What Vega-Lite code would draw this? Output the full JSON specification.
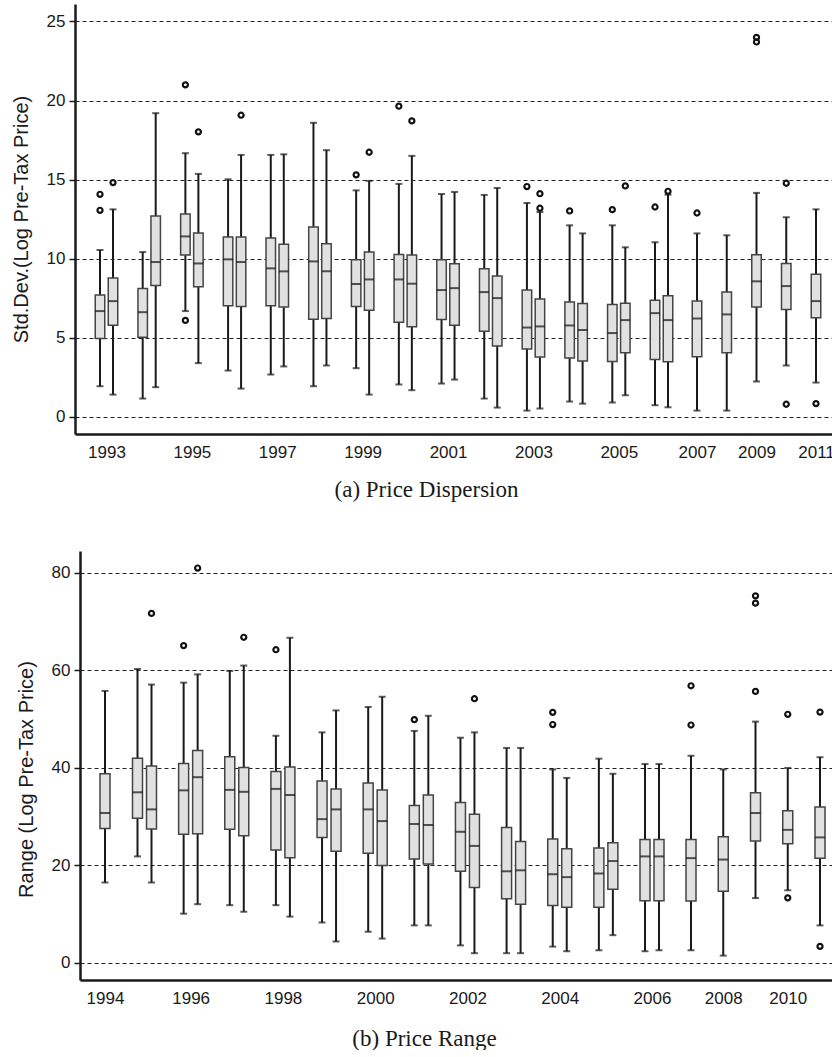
{
  "$schema": "https://vega.github.io/schema/vega-lite/v6.json",
  "background": "white",
  "padding": {"left": 11, "top": 4, "right": 0, "bottom": 0},
  "spacing": 50,
  "config": {
    "view": {"stroke": null},
    "font": "Liberation Sans",
    "axis": {
      "labelFont": "Liberation Sans",
      "titleFont": "Liberation Sans",
      "labelColor": "#1a1a1a",
      "titleColor": "#1a1a1a",
      "domainColor": "#1a1a1a",
      "tickColor": "#1a1a1a",
      "domainWidth": 2.5,
      "titleFontWeight": "normal"
    }
  },
  "datasets": {
    "a": [
      {"year": 1993, "half": "H1", "lo": 1.94, "q1": 4.96, "med": 6.69, "q3": 7.70, "hi": 10.55},
      {"year": 1993, "half": "H2", "lo": 1.41, "q1": 5.80, "med": 7.32, "q3": 8.78, "hi": 13.12},
      {"year": 1994, "half": "H1", "lo": 1.16, "q1": 5.04, "med": 6.62, "q3": 8.12, "hi": 10.42},
      {"year": 1994, "half": "H2", "lo": 1.88, "q1": 8.31, "med": 9.79, "q3": 12.70, "hi": 19.2},
      {"year": 1995, "half": "H1", "lo": 6.69, "q1": 10.23, "med": 11.41, "q3": 12.83, "hi": 16.67},
      {"year": 1995, "half": "H2", "lo": 3.40, "q1": 8.23, "med": 9.70, "q3": 11.62, "hi": 15.36},
      {"year": 1996, "half": "H1", "lo": 2.93, "q1": 7.03, "med": 9.96, "q3": 11.37, "hi": 15.02},
      {"year": 1996, "half": "H2", "lo": 1.79, "q1": 6.98, "med": 9.79, "q3": 11.37, "hi": 16.56},
      {"year": 1997, "half": "H1", "lo": 2.68, "q1": 7.03, "med": 9.39, "q3": 11.31, "hi": 16.56},
      {"year": 1997, "half": "H2", "lo": 3.19, "q1": 6.94, "med": 9.20, "q3": 10.91, "hi": 16.6},
      {"year": 1998, "half": "H1", "lo": 1.94, "q1": 6.18, "med": 9.83, "q3": 12.0, "hi": 18.59},
      {"year": 1998, "half": "H2", "lo": 3.25, "q1": 6.22, "med": 9.20, "q3": 10.95, "hi": 16.86},
      {"year": 1999, "half": "H1", "lo": 3.08, "q1": 6.98, "med": 8.40, "q3": 9.94, "hi": 14.32},
      {"year": 1999, "half": "H2", "lo": 1.41, "q1": 6.75, "med": 8.69, "q3": 10.42, "hi": 14.92},
      {"year": 2000, "half": "H1", "lo": 2.05, "q1": 5.99, "med": 8.69, "q3": 10.27, "hi": 14.73},
      {"year": 2000, "half": "H2", "lo": 1.69, "q1": 5.70, "med": 8.42, "q3": 10.23, "hi": 16.50},
      {"year": 2001, "half": "H1", "lo": 2.11, "q1": 6.16, "med": 8.02, "q3": 9.94, "hi": 14.09},
      {"year": 2001, "half": "H2", "lo": 2.36, "q1": 5.80, "med": 8.14, "q3": 9.68, "hi": 14.22},
      {"year": 2002, "half": "H1", "lo": 1.16, "q1": 5.42, "med": 7.89, "q3": 9.37, "hi": 14.03},
      {"year": 2002, "half": "H2", "lo": 0.59, "q1": 4.49, "med": 7.51, "q3": 8.90, "hi": 14.47},
      {"year": 2003, "half": "H1", "lo": 0.40, "q1": 4.30, "med": 5.65, "q3": 8.02, "hi": 13.52},
      {"year": 2003, "half": "H2", "lo": 0.53, "q1": 3.78, "med": 5.72, "q3": 7.45, "hi": 12.95},
      {"year": 2004, "half": "H1", "lo": 0.97, "q1": 3.73, "med": 5.78, "q3": 7.26, "hi": 12.11},
      {"year": 2004, "half": "H2", "lo": 0.84, "q1": 3.54, "med": 5.49, "q3": 7.17, "hi": 11.60},
      {"year": 2005, "half": "H1", "lo": 0.91, "q1": 3.50, "med": 5.30, "q3": 7.11, "hi": 12.11},
      {"year": 2005, "half": "H2", "lo": 1.37, "q1": 4.05, "med": 6.12, "q3": 7.19, "hi": 10.72},
      {"year": 2006, "half": "H1", "lo": 0.74, "q1": 3.63, "med": 6.56, "q3": 7.38, "hi": 11.04},
      {"year": 2006, "half": "H2", "lo": 0.61, "q1": 3.48, "med": 6.12, "q3": 7.66, "hi": 14.05},
      {"year": 2007, "half": "Y", "lo": 0.40, "q1": 3.80, "med": 6.22, "q3": 7.32, "hi": 11.60},
      {"year": 2008, "half": "Y", "lo": 0.40, "q1": 4.05, "med": 6.48, "q3": 7.89, "hi": 11.48},
      {"year": 2009, "half": "Y", "lo": 2.24, "q1": 6.94, "med": 8.57, "q3": 10.25, "hi": 14.16},
      {"year": 2010, "half": "Y", "lo": 3.25, "q1": 6.79, "med": 8.27, "q3": 9.70, "hi": 12.62},
      {"year": 2011, "half": "Y", "lo": 2.17, "q1": 6.27, "med": 7.32, "q3": 9.01, "hi": 13.12}
    ],
    "aOut": [
      {"year": 1993, "half": "H1", "value": 14.07},
      {"year": 1993, "half": "H1", "value": 13.06},
      {"year": 1993, "half": "H2", "value": 14.81},
      {"year": 1995, "half": "H1", "value": 20.99},
      {"year": 1995, "half": "H1", "value": 6.10},
      {"year": 1995, "half": "H2", "value": 18.02},
      {"year": 1996, "half": "H2", "value": 19.07},
      {"year": 1999, "half": "H1", "value": 15.30},
      {"year": 1999, "half": "H2", "value": 16.73},
      {"year": 2000, "half": "H1", "value": 19.64},
      {"year": 2000, "half": "H2", "value": 18.71},
      {"year": 2003, "half": "H1", "value": 14.56},
      {"year": 2003, "half": "H2", "value": 14.11},
      {"year": 2003, "half": "H2", "value": 13.19},
      {"year": 2004, "half": "H1", "value": 13.02},
      {"year": 2005, "half": "H1", "value": 13.10},
      {"year": 2005, "half": "H2", "value": 14.60},
      {"year": 2006, "half": "H1", "value": 13.27},
      {"year": 2006, "half": "H2", "value": 14.26},
      {"year": 2007, "half": "Y", "value": 12.89},
      {"year": 2009, "half": "Y", "value": 23.99},
      {"year": 2009, "half": "Y", "value": 23.70},
      {"year": 2010, "half": "Y", "value": 14.77},
      {"year": 2010, "half": "Y", "value": 0.80},
      {"year": 2011, "half": "Y", "value": 0.84}
    ],
    "b": [
      {"year": 1994, "half": "Y", "lo": 16.5, "q1": 27.6, "med": 30.75, "q3": 38.8, "hi": 55.8},
      {"year": 1995, "half": "H1", "lo": 21.85, "q1": 29.7, "med": 35.0, "q3": 42.0, "hi": 60.3},
      {"year": 1995, "half": "H2", "lo": 16.5, "q1": 27.5, "med": 31.5, "q3": 40.4, "hi": 57.1},
      {"year": 1996, "half": "H1", "lo": 10.1, "q1": 26.4, "med": 35.4, "q3": 40.9, "hi": 57.5},
      {"year": 1996, "half": "H2", "lo": 12.05, "q1": 26.5, "med": 38.1, "q3": 43.6, "hi": 59.2},
      {"year": 1997, "half": "H1", "lo": 11.85, "q1": 27.4, "med": 35.5, "q3": 42.3, "hi": 59.9},
      {"year": 1997, "half": "H2", "lo": 10.5, "q1": 26.1, "med": 35.1, "q3": 40.1, "hi": 61.0},
      {"year": 1998, "half": "H1", "lo": 11.85, "q1": 23.15, "med": 35.7, "q3": 39.25, "hi": 46.6},
      {"year": 1998, "half": "H2", "lo": 9.5, "q1": 21.6, "med": 34.45, "q3": 40.2, "hi": 66.7},
      {"year": 1999, "half": "H1", "lo": 8.3, "q1": 25.75, "med": 29.5, "q3": 37.3, "hi": 47.3},
      {"year": 1999, "half": "H2", "lo": 4.4, "q1": 22.9, "med": 31.5, "q3": 35.7, "hi": 51.8},
      {"year": 2000, "half": "H1", "lo": 6.4, "q1": 22.5, "med": 31.5, "q3": 36.9, "hi": 52.5},
      {"year": 2000, "half": "H2", "lo": 5.0, "q1": 20.0, "med": 29.1, "q3": 35.5, "hi": 54.6},
      {"year": 2001, "half": "H1", "lo": 7.7, "q1": 21.3, "med": 28.5, "q3": 32.3, "hi": 47.6},
      {"year": 2001, "half": "H2", "lo": 7.7, "q1": 20.3, "med": 28.3, "q3": 34.45, "hi": 50.7},
      {"year": 2002, "half": "H1", "lo": 3.6, "q1": 18.8, "med": 26.9, "q3": 32.9, "hi": 46.2},
      {"year": 2002, "half": "H2", "lo": 2.0, "q1": 15.5, "med": 24.0, "q3": 30.5, "hi": 47.3},
      {"year": 2003, "half": "H1", "lo": 2.0, "q1": 13.15, "med": 18.8, "q3": 27.8, "hi": 44.1},
      {"year": 2003, "half": "H2", "lo": 2.0, "q1": 12.05, "med": 19.0, "q3": 24.9, "hi": 44.1},
      {"year": 2004, "half": "H1", "lo": 3.35, "q1": 11.8, "med": 18.2, "q3": 25.4, "hi": 39.7},
      {"year": 2004, "half": "H2", "lo": 2.4, "q1": 11.4, "med": 17.6, "q3": 23.4, "hi": 37.95},
      {"year": 2005, "half": "H1", "lo": 2.6, "q1": 11.4, "med": 18.35, "q3": 23.6, "hi": 41.9},
      {"year": 2005, "half": "H2", "lo": 5.7, "q1": 15.1, "med": 20.9, "q3": 24.65, "hi": 38.8},
      {"year": 2006, "half": "H1", "lo": 2.4, "q1": 12.75, "med": 21.85, "q3": 25.3, "hi": 40.8},
      {"year": 2006, "half": "H2", "lo": 2.6, "q1": 12.75, "med": 21.85, "q3": 25.3, "hi": 40.8},
      {"year": 2007, "half": "Y", "lo": 2.6, "q1": 12.7, "med": 21.5, "q3": 25.3, "hi": 42.5},
      {"year": 2008, "half": "Y", "lo": 1.5, "q1": 14.7, "med": 21.2, "q3": 25.9, "hi": 39.7},
      {"year": 2009, "half": "Y", "lo": 13.3, "q1": 25.0, "med": 30.75, "q3": 34.9, "hi": 49.5},
      {"year": 2010, "half": "Y", "lo": 14.9, "q1": 24.45, "med": 27.3, "q3": 31.2, "hi": 40.0},
      {"year": 2011, "half": "Y", "lo": 7.7, "q1": 21.5, "med": 25.75, "q3": 32.0, "hi": 42.2}
    ],
    "bOut": [
      {"year": 1995, "half": "H2", "value": 71.7},
      {"year": 1996, "half": "H1", "value": 65.1},
      {"year": 1996, "half": "H2", "value": 81.0},
      {"year": 1997, "half": "H2", "value": 66.8},
      {"year": 1998, "half": "H1", "value": 64.25},
      {"year": 2001, "half": "H1", "value": 49.9},
      {"year": 2002, "half": "H2", "value": 54.2},
      {"year": 2004, "half": "H1", "value": 51.4},
      {"year": 2004, "half": "H1", "value": 48.9},
      {"year": 2007, "half": "Y", "value": 56.85},
      {"year": 2007, "half": "Y", "value": 48.8},
      {"year": 2009, "half": "Y", "value": 75.3},
      {"year": 2009, "half": "Y", "value": 73.8},
      {"year": 2009, "half": "Y", "value": 55.7},
      {"year": 2010, "half": "Y", "value": 51.0},
      {"year": 2010, "half": "Y", "value": 13.35},
      {"year": 2011, "half": "Y", "value": 51.45},
      {"year": 2011, "half": "Y", "value": 3.4}
    ]
  },
  "vconcat": [
    {
      "width": 757,
      "height": 430,
      "layer": [
        {
          "data": {"name": "a"},
          "mark": {"type": "rule", "color": "#1a1a1a", "strokeWidth": 2, "xOffset": {"expr": "datum.half == 'H1' ? -6.5 : (datum.half == 'H2' ? 6.5 : 0)"}},
          "encoding": {
            "x": {
              "field": "year", "type": "quantitative",
              "scale": {"domain": [1992.26, 1993, 2006, 2007, 2011, 2011.54], "range": [0, 31.5, 586.5, 622, 741, 757], "nice": false, "zero": false},
              "axis": {
                "values": [1993, 1995, 1997, 1999, 2001, 2003, 2005, 2007, 2009, 2011],
                "format": "d", "ticks": false, "grid": false, "labelPadding": 10, "labelFontSize": 17,
                "title": "(a) Price Dispersion", "titleFont": "Liberation Serif", "titleFontSize": 23,
                "titlePadding": 18, "titleX": 351, "titleAlign": "center"
              }
            },
            "y": {
              "field": "lo", "type": "quantitative",
              "scale": {"domain": [-1.08, 26.1], "nice": false, "zero": false},
              "axis": {
                "values": [0, 5, 10, 15, 20, 25], "tickSize": 6, "tickWidth": 1.5, "labelPadding": 4, "labelFontSize": 17,
                "grid": true, "gridDash": [4, 3], "gridColor": "#222222", "gridWidth": 1,
                "title": "Std.Dev.(Log Pre-Tax Price)", "titleFontSize": 20, "titlePadding": 15
              }
            },
            "y2": {"field": "hi"}
          }
        },
        {
          "data": {"name": "a"},
          "mark": {"type": "tick", "orient": "horizontal", "color": "#1a1a1a", "thickness": 2, "size": 7, "xOffset": {"expr": "datum.half == 'H1' ? -6.5 : (datum.half == 'H2' ? 6.5 : 0)"}},
          "encoding": {
            "x": {"field": "year", "type": "quantitative", "title": "(a) Price Dispersion"},
            "y": {"field": "hi", "type": "quantitative", "title": "Std.Dev.(Log Pre-Tax Price)"}
          }
        },
        {
          "data": {"name": "a"},
          "mark": {"type": "tick", "orient": "horizontal", "color": "#1a1a1a", "thickness": 2, "size": 7, "xOffset": {"expr": "datum.half == 'H1' ? -6.5 : (datum.half == 'H2' ? 6.5 : 0)"}},
          "encoding": {
            "x": {"field": "year", "type": "quantitative", "title": "(a) Price Dispersion"},
            "y": {"field": "lo", "type": "quantitative", "title": "Std.Dev.(Log Pre-Tax Price)"}
          }
        },
        {
          "data": {"name": "a"},
          "mark": {"type": "bar", "size": 9.5, "fill": "#e1e1e1", "stroke": "#444444", "strokeWidth": 1.5, "xOffset": {"expr": "datum.half == 'H1' ? -6.5 : (datum.half == 'H2' ? 6.5 : 0)"}},
          "encoding": {
            "x": {"field": "year", "type": "quantitative", "title": "(a) Price Dispersion"},
            "y": {"field": "q1", "type": "quantitative", "title": "Std.Dev.(Log Pre-Tax Price)"},
            "y2": {"field": "q3"}
          }
        },
        {
          "data": {"name": "a"},
          "mark": {"type": "tick", "orient": "horizontal", "color": "#111111", "thickness": 2, "size": 9.5, "xOffset": {"expr": "datum.half == 'H1' ? -6.5 : (datum.half == 'H2' ? 6.5 : 0)"}},
          "encoding": {
            "x": {"field": "year", "type": "quantitative", "title": "(a) Price Dispersion"},
            "y": {"field": "med", "type": "quantitative", "title": "Std.Dev.(Log Pre-Tax Price)"}
          }
        },
        {
          "data": {"name": "aOut"},
          "mark": {"type": "point", "shape": "circle", "filled": false, "stroke": "#111111", "strokeWidth": 2.2, "size": 26, "opacity": 1, "xOffset": {"expr": "datum.half == 'H1' ? -6.5 : (datum.half == 'H2' ? 6.5 : 0)"}},
          "encoding": {
            "x": {"field": "year", "type": "quantitative", "title": "(a) Price Dispersion"},
            "y": {"field": "value", "type": "quantitative", "title": "Std.Dev.(Log Pre-Tax Price)"}
          }
        }
      ]
    },
    {
      "width": 757,
      "height": 429,
      "layer": [
        {
          "data": {"name": "b"},
          "mark": {"type": "rule", "color": "#1a1a1a", "strokeWidth": 2, "xOffset": {"expr": "datum.half == 'H1' ? -7 : (datum.half == 'H2' ? 7 : 0)"}},
          "encoding": {
            "x": {
              "field": "year", "type": "quantitative",
              "scale": {"domain": [1993.37, 1994, 1995, 2006, 2007, 2011, 2011.37], "range": [5, 30, 69.5, 577, 616, 745, 757], "nice": false, "zero": false},
              "axis": {
                "values": [1994, 1996, 1998, 2000, 2002, 2004, 2006, 2008, 2010],
                "format": "d", "ticks": false, "grid": false, "labelPadding": 10, "labelFontSize": 17,
                "title": "(b) Price Range", "titleFont": "Liberation Serif", "titleFontSize": 23,
                "titlePadding": 21, "titleX": 349, "titleAlign": "center"
              }
            },
            "y": {
              "field": "lo", "type": "quantitative",
              "scale": {"domain": [-3.5, 84.5], "nice": false, "zero": false},
              "axis": {
                "values": [0, 20, 40, 60, 80], "tickSize": 6, "tickWidth": 1.5, "labelPadding": 4, "labelFontSize": 17,
                "offset": -5,
                "grid": true, "gridDash": [4, 3], "gridColor": "#222222", "gridWidth": 1,
                "title": "Range (Log Pre-Tax Price)", "titleFontSize": 20, "titlePadding": 15, "titleY": 228
              }
            },
            "y2": {"field": "hi"}
          }
        },
        {
          "data": {"name": "b"},
          "mark": {"type": "tick", "orient": "horizontal", "color": "#1a1a1a", "thickness": 2, "size": 7, "xOffset": {"expr": "datum.half == 'H1' ? -7 : (datum.half == 'H2' ? 7 : 0)"}},
          "encoding": {
            "x": {"field": "year", "type": "quantitative", "title": "(b) Price Range"},
            "y": {"field": "hi", "type": "quantitative", "title": "Range (Log Pre-Tax Price)"}
          }
        },
        {
          "data": {"name": "b"},
          "mark": {"type": "tick", "orient": "horizontal", "color": "#1a1a1a", "thickness": 2, "size": 7, "xOffset": {"expr": "datum.half == 'H1' ? -7 : (datum.half == 'H2' ? 7 : 0)"}},
          "encoding": {
            "x": {"field": "year", "type": "quantitative", "title": "(b) Price Range"},
            "y": {"field": "lo", "type": "quantitative", "title": "Range (Log Pre-Tax Price)"}
          }
        },
        {
          "data": {"name": "b"},
          "mark": {"type": "bar", "size": 10, "fill": "#e1e1e1", "stroke": "#444444", "strokeWidth": 1.5, "xOffset": {"expr": "datum.half == 'H1' ? -7 : (datum.half == 'H2' ? 7 : 0)"}},
          "encoding": {
            "x": {"field": "year", "type": "quantitative", "title": "(b) Price Range"},
            "y": {"field": "q1", "type": "quantitative", "title": "Range (Log Pre-Tax Price)"},
            "y2": {"field": "q3"}
          }
        },
        {
          "data": {"name": "b"},
          "mark": {"type": "tick", "orient": "horizontal", "color": "#111111", "thickness": 2, "size": 10, "xOffset": {"expr": "datum.half == 'H1' ? -7 : (datum.half == 'H2' ? 7 : 0)"}},
          "encoding": {
            "x": {"field": "year", "type": "quantitative", "title": "(b) Price Range"},
            "y": {"field": "med", "type": "quantitative", "title": "Range (Log Pre-Tax Price)"}
          }
        },
        {
          "data": {"name": "bOut"},
          "mark": {"type": "point", "shape": "circle", "filled": false, "stroke": "#111111", "strokeWidth": 2.2, "size": 26, "opacity": 1, "xOffset": {"expr": "datum.half == 'H1' ? -7 : (datum.half == 'H2' ? 7 : 0)"}},
          "encoding": {
            "x": {"field": "year", "type": "quantitative", "title": "(b) Price Range"},
            "y": {"field": "value", "type": "quantitative", "title": "Range (Log Pre-Tax Price)"}
          }
        }
      ]
    }
  ],
  "resolve": {"scale": {"x": "independent", "y": "independent"}}
}
